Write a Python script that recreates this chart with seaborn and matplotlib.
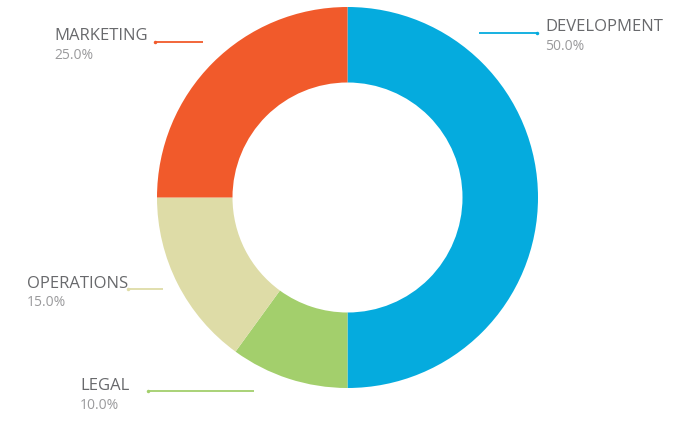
import matplotlib
matplotlib.use("Agg")
import matplotlib.pyplot as plt
import seaborn as sns

categories = ["DEVELOPMENT", "LEGAL", "OPERATIONS", "MARKETING"]
values = [50.0, 10.0, 15.0, 25.0]
pct_labels = ["50.0%", "10.0%", "15.0%", "25.0%"]
colors = ["#05abde", "#a3cf6c", "#dedca7", "#f15a2b"]

sns.set_theme(style="white")
plt.rcParams['font.family'] = ['Open Sans', 'DejaVu Sans']

W, H = 685, 433
fig = plt.figure(figsize=(W / 100, H / 100), dpi=100)
ax = fig.add_axes([0, 0, 1, 1])

cx, cy, R = 347.5, H - 197.5, 190.5
ax.pie(values, colors=colors, startangle=90, counterclock=False,
       center=(cx, cy), radius=R,
       wedgeprops=dict(width=75.5, edgecolor='none'), frame=True)
ax.set_xlim(0, W)
ax.set_ylim(0, H)
ax.set_aspect('equal')
ax.axis('off')

# label layout (pixel coordinates from top)
label_pos = {
    "DEVELOPMENT": dict(tx=545, ty=31, py=50, line=(479, 537, 33), dot='right'),
    "LEGAL": dict(tx=80, ty=390, py=409, line=(148, 254, 391), dot='left'),
    "OPERATIONS": dict(tx=27, ty=288, py=306, line=(128, 163, 289), dot='left'),
    "MARKETING": dict(tx=54, ty=40, py=59, line=(155, 203, 42), dot='left'),
}

for cat, pct, col in zip(categories, pct_labels, colors):
    p = label_pos[cat]
    ax.text(p['tx'], H - p['ty'], cat, fontsize=12, color='#68696c',
            ha='left', va='baseline')
    ax.text(p['tx'], H - p['py'], pct, fontsize=10, color='#9a9a9c',
            ha='left', va='baseline')
    x0, x1, ly = p['line']
    ax.plot([x0, x1], [H - ly, H - ly], color=col, lw=1.3, solid_capstyle='butt')
    dx = x1 if p['dot'] == 'right' else x0
    ax.plot([dx], [H - ly], marker='o', ms=2.5, color=col, mec='none')

fig.savefig("out.png", dpi=100, facecolor='white')
